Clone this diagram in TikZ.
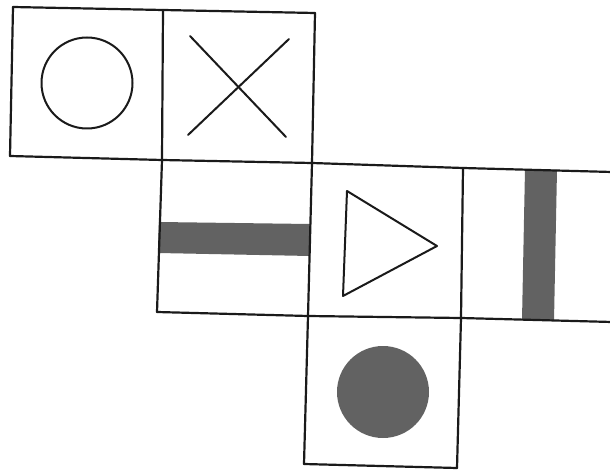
\documentclass[tikz,border=0pt]{standalone}
\usepackage{tikz}
\definecolor{ink}{HTML}{1A1A1A}
\definecolor{shade}{HTML}{626262}
\tikzset{
  edgeline/.style={draw=ink, line width=2.2pt, line join=round, line cap=round},
  symline/.style={draw=ink, line width=2.0pt, line join=round, line cap=round},
  filledshape/.style={fill=shade, draw=none},
}
\begin{document}
\begin{tikzpicture}[x=1pt, y=-1pt]
\useasboundingbox (0,0) rectangle (610,470);
% corner points of the net
\coordinate (A) at (13,7);
\coordinate (B) at (163,10);
\coordinate (C) at (315,13);
\coordinate (D) at (10,156);
\coordinate (E) at (162,160);
\coordinate (F) at (312,163);
\coordinate (G) at (463,168);
\coordinate (H) at (612,172);
\coordinate (I) at (157,312);
\coordinate (J) at (308,316);
\coordinate (K) at (461,318);
\coordinate (L) at (612,322);
\coordinate (M) at (304,464);
\coordinate (N) at (457,468);
% fills first
\fill[filledshape] (159,222) -- (310,224) -- (310,256) -- (158,253) -- cycle;
\fill[filledshape] (525,169) -- (557,170) -- (554,321) -- (522,320) -- cycle;
\fill[filledshape] (383,392) circle (46);
% grid lines
\draw[edgeline] (A) -- (B) -- (C);
\draw[edgeline] (D) -- (E) -- (F) -- (G) -- (H);
\draw[edgeline] (I) -- (J) -- (K) -- (L);
\draw[edgeline] (M) -- (N);
\draw[edgeline] (A) -- (D);
\draw[edgeline] (B) -- (E) -- (I);
\draw[edgeline] (C) -- (F) -- (J) -- (M);
\draw[edgeline] (G) -- (K) -- (N);
% symbols
\draw[symline] (87,83) circle (45.5);
\draw[symline] (190,36) -- (286,137);
\draw[symline] (289,39) -- (188,135);
\draw[symline] (347,191) -- (437,246) -- (343,296) -- cycle;
\end{tikzpicture}
\end{document}
